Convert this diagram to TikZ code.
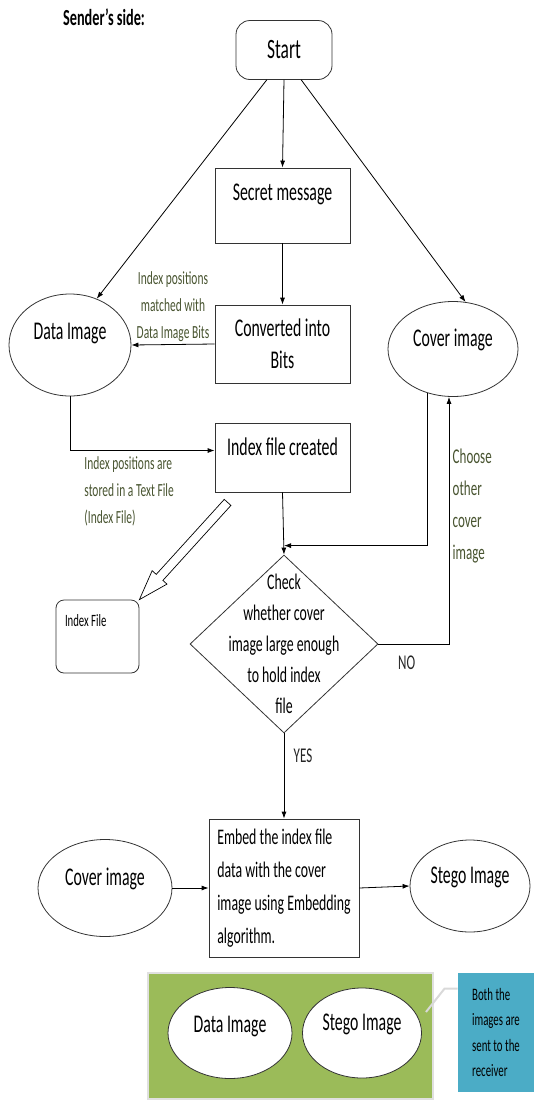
\documentclass[tikz,border=0pt]{standalone}
\usepackage{fontspec}
\setmainfont{Carlito}[FakeStretch=0.62]
\usetikzlibrary{shapes.geometric,arrows.meta,calc}

\definecolor{lblgreen}{RGB}{72,84,48}
\definecolor{boxgreen}{RGB}{155,187,89}
\definecolor{notecyan}{RGB}{75,172,198}

\newcommand{\bigtext}{\fontsize{25.5}{32}\selectfont}
\newcommand{\midtext}{\fontsize{22.3}{31}\selectfont}
\newcommand{\smalltext}{\fontsize{18.5}{27}\selectfont}

\tikzset{
  oval/.style={ellipse, draw=black!80, font=\bigtext, text depth=22pt, inner sep=0pt},
  proc/.style={rectangle, draw=black!80, font=\bigtext, minimum width=135pt, inner sep=2pt},
  note/.style={font=\smalltext, text=lblgreen, align=left, inner sep=2pt}
}

\begin{document}
\begin{tikzpicture}[x=1pt, y=-1pt, line width=0.8pt, >={Latex[length=7pt,width=5pt]}]
\useasboundingbox (0,0) rectangle (534,1106);

\node[font=\bfseries\fontsize{23}{26}\selectfont] (title) at (104,17) {Sender’s side:};

% flow nodes
\node[proc, rounded corners=14pt, minimum width=96pt, minimum height=59pt,
      font=\fontsize{28}{32}\selectfont] (start) at (284,50) {Start};
\node[proc, minimum height=75pt, text depth=27pt] (secret) at (282.5,205.5) {Secret message};
\node[proc, minimum height=78pt, align=center] (bits) at (282.5,344) {Converted into\\Bits};
\node[proc, minimum height=69pt, text depth=21pt] (idx) at (282.5,457.5) {Index file created};

\node[oval, minimum width=122pt, minimum height=102pt, text depth=27pt] (dimg) at (70,345) {Data Image};
\node[oval, minimum width=130pt, minimum height=95pt] (cimg) at (453,349) {Cover image};

\node[draw=black!80, rounded corners=8pt, minimum width=83pt, minimum height=73pt,
      label={[font=\fontsize{17.3}{20}\selectfont, anchor=north west, inner sep=0pt, xshift=9pt, yshift=-14pt]north west:Index File}]
      (ifile) at (97.5,636.5) {};

\node[diamond, draw=black!80, minimum width=188pt, minimum height=178pt, inner sep=0pt,
      label={[align=center, font=\midtext]center:Check\\whether cover\\image large enough\\to hold index\\file}]
      (check) at (284,644) {};

\node[proc, minimum width=150pt, minimum height=138pt, align=left,
      font=\fontsize{22.3}{33}\selectfont] (embed) at (284,888)
      {Embed the index file\\data with the cover\\image using Embedding\\algorithm.};

\node[oval, minimum width=134pt, minimum height=97pt] (cov2) at (105,888) {Cover image};
\node[oval, minimum width=120pt, minimum height=92pt] (stego) at (470,886) {Stego Image};

% sent to the receiver
\node[fill=boxgreen, draw=black!12, line width=1.5pt, minimum width=285pt, minimum height=126pt] (grp) at (290.5,1036) {};
\node[oval, fill=white, minimum width=124pt, minimum height=91pt, text depth=18pt] (dimg2) at (230,1033) {Data Image};
\node[oval, fill=white, minimum width=119pt, minimum height=90pt] (stego2) at (362,1033) {Stego Image};
\node[fill=notecyan, minimum width=76pt, minimum height=119pt, align=left,
      font=\fontsize{17.5}{25.5}\selectfont, inner sep=0pt] (recv) at (496,1032.5)
      {Both the\\images are\\sent to the\\receiver};

% connectors
\path (start.south) edge[->] (secret.north);
\path (secret.south) edge[->] (bits.north);
\path (start.240) edge[->] (dimg.60);
\path (start.300) edge[->] (cimg.75);
\path (bits.west) edge[->] node[note, above, align=center] {Index positions\\matched with\\Data Image Bits} (dimg.east);
\draw[->] (dimg.south) |- ([yshift=7pt]idx.west)
  node[note, pos=0.5, anchor=north west, xshift=12pt, yshift=-4pt] {Index positions are\\stored in a Text File\\(Index File)};
\path (idx.south) edge[->] (check.north);

\coordinate (join) at ([yshift=9pt]check.north);
\draw[->] (cimg.240) |- (join);
\draw[->] (check.east) -| ([xshift=-4pt]cimg.south)
  node[pos=0.2, below=8pt, font=\fontsize{21}{24}\selectfont, text=black!85] {NO}
  node[pos=0.78, right, align=left, font=\fontsize{21}{32}\selectfont, text=lblgreen] {Choose\\other\\cover\\image};
\draw[->] (check.south) -- (embed.north)
  node[pos=0.26, right=6pt, font=\fontsize{21}{24}\selectfont, text=black!85] {YES};
\path (cov2.east) edge[->] (embed.west);
\path (embed.east) edge[->] (stego.west);

% hollow arrow to the index file
\coordinate (ha) at ([shift={(13,10)}]idx.south west);
\coordinate (hb) at (ifile.north east);
\coordinate (neck) at ($(hb)!30pt!(ha)$);
\draw[line width=0.7pt, fill=white] ($(ha)!4.5pt!90:(hb)$) -- ($(neck)!4.5pt!-90:(ha)$) -- ($(neck)!10pt!-90:(ha)$)
  -- (hb) -- ($(neck)!10pt!90:(ha)$) -- ($(neck)!4.5pt!90:(ha)$) -- ($(ha)!4.5pt!-90:(hb)$) -- cycle;

% callout pointer
\coordinate (tail) at (426,1012);
\draw[white!85!black, line width=2pt] ([yshift=44pt]recv.west) -- ++(-13,0) -- (tail);

\end{tikzpicture}
\end{document}
